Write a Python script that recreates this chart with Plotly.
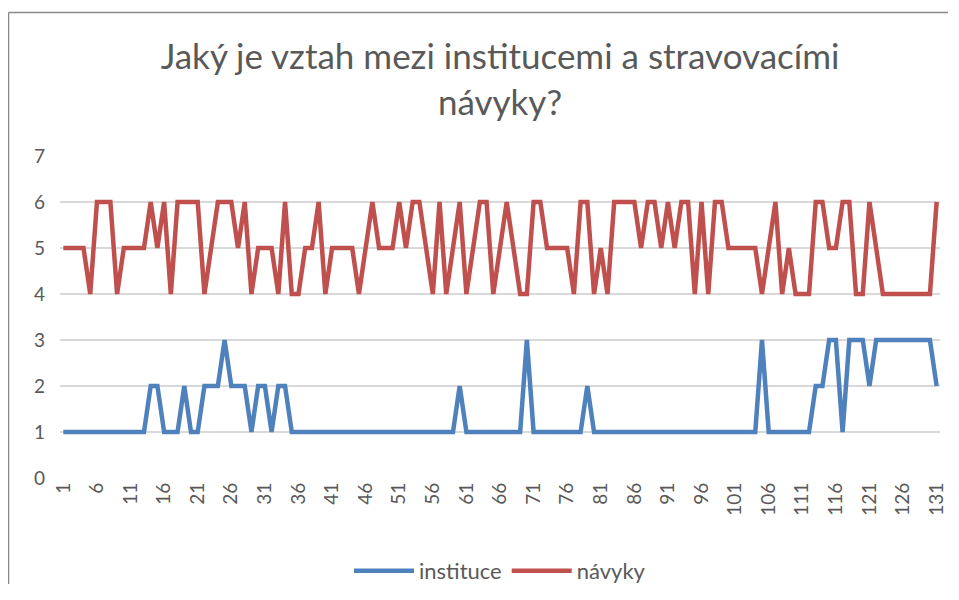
import plotly.graph_objects as go

categories = list(range(1, 132))

instituce = [
    1, 1, 1, 1, 1, 1, 1, 1, 1, 1,
    1, 1, 1, 2, 2, 1, 1, 1, 2, 1,
    1, 2, 2, 2, 3, 2, 2, 2, 1, 2,
    2, 1, 2, 2, 1, 1, 1, 1, 1, 1,
    1, 1, 1, 1, 1, 1, 1, 1, 1, 1,
    1, 1, 1, 1, 1, 1, 1, 1, 1, 2,
    1, 1, 1, 1, 1, 1, 1, 1, 1, 3,
    1, 1, 1, 1, 1, 1, 1, 1, 2, 1,
    1, 1, 1, 1, 1, 1, 1, 1, 1, 1,
    1, 1, 1, 1, 1, 1, 1, 1, 1, 1,
    1, 1, 1, 1, 3, 1, 1, 1, 1, 1,
    1, 1, 2, 2, 3, 3, 1, 3, 3, 3,
    2, 3, 3, 3, 3, 3, 3, 3, 3, 3,
    2,
]

navyky = [
    5, 5, 5, 5, 4, 6, 6, 6, 4, 5,
    5, 5, 5, 6, 5, 6, 4, 6, 6, 6,
    6, 4, 5, 6, 6, 6, 5, 6, 4, 5,
    5, 5, 4, 6, 4, 4, 5, 5, 6, 4,
    5, 5, 5, 5, 4, 5, 6, 5, 5, 5,
    6, 5, 6, 6, 5, 4, 6, 4, 5, 6,
    4, 5, 6, 6, 4, 5, 6, 5, 4, 4,
    6, 6, 5, 5, 5, 5, 4, 6, 6, 4,
    5, 4, 6, 6, 6, 6, 5, 6, 6, 5,
    6, 5, 6, 6, 4, 6, 4, 6, 6, 5,
    5, 5, 5, 5, 4, 5, 6, 4, 5, 4,
    4, 4, 6, 6, 5, 5, 6, 6, 4, 4,
    6, 5, 4, 4, 4, 4, 4, 4, 4, 4,
    6,
]

tick_vals = list(range(1, 132, 5))
tick_text = [str(v) for v in tick_vals]
y_ticks = [0, 1, 2, 3, 4, 5, 6, 7]

title_text = "Jaký je vztah mezi institucemi a stravovacími<br>návyky?"

FONT = "Lato, Carlito, Calibri, sans-serif"
GREY = "#595959"

# page body has an 8px offset; figure coords = screen coords - 8
OFF = 8
W, H = 940, 576
PL, PR, PT, PB = 60 - OFF, 940 - OFF, 156 - OFF, 478 - OFF
PW, PH = PR - PL, PB - PT


def px_x(sx):
    return (sx - 60) / PW


def px_y(sy):
    return (478 - sy) / PH


fig = go.Figure()
fig.add_trace(go.Scatter(x=categories, y=instituce, mode="lines", name="instituce",
                         line=dict(color="#4F81BD", width=4.5)))
fig.add_trace(go.Scatter(x=categories, y=navyky, mode="lines", name="návyky",
                         line=dict(color="#C0504D", width=4.5)))

border = dict(color="#898989", width=1.5)

fig.update_layout(
    width=W, height=H,
    paper_bgcolor="white", plot_bgcolor="white",
    margin=dict(l=PL, r=W - PR, t=PT, b=H - PB, autoexpand=False),
    font=dict(family=FONT, color=GREY),
    title=dict(text=title_text, x=0.5, xanchor="center", xref="paper",
               y=1 - 61 / H, yanchor="top",
               font=dict(family=FONT, size=35, color=GREY)),
    showlegend=True,
    legend=dict(orientation="h", x=0.5, xanchor="center",
                y=-(571 - 478) / PH, yanchor="middle",
                font=dict(family=FONT, size=22, color=GREY), itemwidth=60,
                bgcolor="rgba(0,0,0,0)"),
    xaxis=dict(range=[0.5, 131.5], tickmode="array", tickvals=tick_vals, ticktext=tick_text,
               tickangle=-90, tickfont=dict(family=FONT, size=19, color=GREY),
               showgrid=False, zeroline=False, showline=False, ticks=""),
    yaxis=dict(range=[0, 7], tickmode="array", tickvals=y_ticks,
               tickfont=dict(family=FONT, size=19, color=GREY),
               showgrid=True, gridcolor="#d9d9d9", gridwidth=1.5,
               zeroline=False, showline=False, ticks="", ticklabelstandoff=14),
    shapes=[
        dict(type="line", xref="paper", yref="paper",
             x0=px_x(8.5), x1=px_x(960), y0=px_y(12.5), y1=px_y(12.5), line=border),
        dict(type="line", xref="paper", yref="paper",
             x0=px_x(8.5), x1=px_x(8.5), y0=px_y(12.5), y1=px_y(600), line=border),
    ],
)

fig.write_html("out.html")
